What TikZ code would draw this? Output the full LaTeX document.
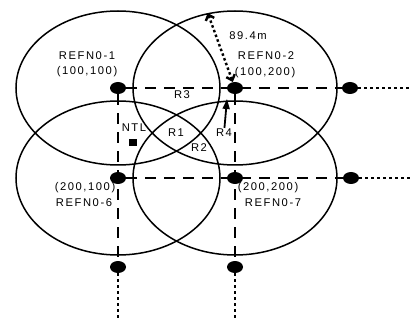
\documentclass[tikz,border=0pt]{standalone}
\usepackage{fontspec}
\newfontfamily\lblfont[LetterSpace=14]{Liberation Sans}
\usetikzlibrary{shapes.geometric, arrows.meta}

\begin{document}
\begin{tikzpicture}[
            x=1pt, y=-1pt,
            cell/.style={ellipse, draw, line width=1.5pt, minimum width=204pt, minimum height=154pt, inner sep=0pt},
            refpt/.style={ellipse, fill=black, minimum width=16pt, minimum height=12pt, inner sep=0pt},
            lbl/.style={font=\fontsize{11.2}{13}\lblfont, text=black, inner sep=1pt},
            gridline/.style={line width=2pt, dash pattern=on 11pt off 8pt},
            tailline/.style={line width=2.6pt, dash pattern=on 3pt off 3pt},
            spanline/.style={{Straight Barb[length=5pt,width=9pt]}-{Straight Barb[length=5pt,width=9pt]}, line width=2.4pt, dash pattern=on 2.5pt off 2.5pt},
            pointer/.style={-{Triangle[length=10pt,width=7pt]}, line width=1.8pt}
        ]
            \useasboundingbox (0,0) rectangle (417,320);

            % --- Coverage Areas ---
            \node[cell] (c1) at (118,88) {};
            \node[cell] (c2) at (235,88) {};
            \node[cell] (c6) at (118,178) {};
            \node[cell] (c7) at (235,178) {};

            % --- Reference Points ---
            \node[refpt] (p1) at (118,88) {};
            \node[refpt] (p2) at (235,88) {};
            \node[refpt] (p3) at (350,88) {};
            \node[refpt] (p6) at (118,178) {};
            \node[refpt] (p7) at (235,178) {};
            \node[refpt] (p8) at (351,178) {};
            \node[refpt] (p9) at (118,267) {};
            \node[refpt] (p10) at (235,267) {};
            \coordinate (e3) at (412,88);
            \coordinate (e8) at (412,178);
            \coordinate (e9) at (118,320);
            \coordinate (e10) at (235,320);

            % --- Grid Lines ---
            \draw[gridline] (p1) -- (p3);
            \draw[gridline] (p6) -- (p8);
            \draw[gridline] (p1) -- (p9);
            \draw[gridline] (p2) -- (p10);
            \draw[tailline] (p3) -- (e3);
            \draw[tailline] (p8) -- (e8);
            \draw[tailline] (p9) -- (e9);
            \draw[tailline] (p10) -- (e10);

            % --- Labels ---
            \node[lbl] (n1) at (87,56) {REFN0-1};
            \node[lbl] (k1) at (87,72) {(100,100)};
            \node[lbl] (n2) at (266,56) {REFN0-2};
            \node[lbl] (k2) at (265,73) {(100,200)};
            \node[lbl] (k6) at (85,188) {(200,100)};
            \node[lbl] (n6) at (84,203) {REFN0-6};
            \node[lbl] (k7) at (268,188) {(200,200)};
            \node[lbl] (n7) at (273,203) {REFN0-7};
            \node[lbl] (dist) at (248,36) {89.4m};
            \node[lbl] (r1) at (176,133) {R1};
            \node[lbl] (r2) at (199,148) {R2};
            \node[lbl] (r3) at (182,95) {R3};
            \node[lbl] (r4) at (224,133) {R4};
            \node[lbl] (ntl) at (134,128) {NTL};
            \node[fill=black, minimum width=8pt, minimum height=7pt, inner sep=0pt] (ntlpt) at (133,143) {};

            % --- Range and Pointer ---
            \coordinate (r4tip) at (227,99);
            \draw[spanline] (c2.110) -- (p2);
            \draw[pointer] (r4) -- (r4tip);
        \end{tikzpicture}
\end{document}
